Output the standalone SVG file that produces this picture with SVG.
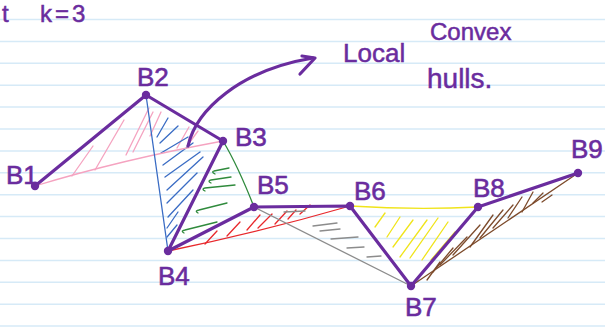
<svg xmlns="http://www.w3.org/2000/svg" width="605" height="327" viewBox="0 0 605 327">
<defs>
<style>
.rule{stroke:#d6eaf7;stroke-width:1.5}
.edge{stroke:#6a2c9e;stroke-width:3.2;fill:none;stroke-linecap:round;stroke-linejoin:round}
.hull{fill:none;stroke-width:1.3;stroke-linecap:round}
.h{fill:none;stroke-width:1.3;stroke-linecap:round;stroke-linejoin:round}
.pink{stroke:#f5a3c0}
.blue{stroke:#3a6cc4}
.green{stroke:#2f8a3c}
.red{stroke:#e8282c}
.gray{stroke:#8c8c8c}
.yellow{stroke:#f0e41a}
.brown{stroke:#7d4b2c}
.dot{fill:#6a2c9e}
.lbl{font-family:"Liberation Sans",Arial,sans-serif;font-size:26px;fill:#6a2c9e;stroke:#6a2c9e;stroke-width:0.6}
.note{font-family:"Liberation Sans",Arial,sans-serif;fill:#6a2c9e;stroke:#6a2c9e;stroke-width:0.5}
</style>
</defs>
<rect width="605" height="327" fill="#ffffff"/>
<g id="ruling">
<line class="rule" x1="0" y1="19.5" x2="605" y2="19.5"/>
<line class="rule" x1="0" y1="41.4" x2="605" y2="41.4"/>
<line class="rule" x1="0" y1="63.3" x2="605" y2="63.3"/>
<line class="rule" x1="0" y1="85.2" x2="605" y2="85.2"/>
<line class="rule" x1="0" y1="107.1" x2="605" y2="107.1"/>
<line class="rule" x1="0" y1="129" x2="605" y2="129"/>
<line class="rule" x1="0" y1="150.9" x2="605" y2="150.9"/>
<line class="rule" x1="0" y1="172.8" x2="605" y2="172.8"/>
<line class="rule" x1="0" y1="194.7" x2="605" y2="194.7"/>
<line class="rule" x1="0" y1="216.6" x2="605" y2="216.6"/>
<line class="rule" x1="0" y1="238.5" x2="605" y2="238.5"/>
<line class="rule" x1="0" y1="260.4" x2="605" y2="260.4"/>
<line class="rule" x1="0" y1="282.3" x2="605" y2="282.3"/>
<line class="rule" x1="0" y1="304.2" x2="605" y2="304.2"/>
<line class="rule" x1="0" y1="326.1" x2="605" y2="326.1"/>
</g>
<g id="hatching">
<g class="h pink">
<path d="M72,176 L93,146"/>
<path d="M95,170 L124,120"/>
<path d="M126,155 L149,108"/>
<path d="M133,152 L153,112"/>
<path d="M150,136 L161,112"/>
<path d="M177,148 L189,127"/>
<path d="M187,146 L198,131"/>
</g>
<g class="h blue">
<path d="M157,137 L168,118"/>
<path d="M160,143 L178,126"/>
<path d="M161,153 L188,137"/>
<path d="M163,165 L193,143"/>
<path d="M165,177 L200,152"/>
<path d="M167,190 L203,157"/>
<path d="M167,203 L197,173"/>
<path d="M168,217 L193,190"/>
<path d="M167,228 L178,212"/>
<path d="M167,237 L177,225"/>
</g>
<g class="h green">
<path d="M215,174 Q211,172 214,171 L229,168"/>
<path d="M211,183 Q207,181 211,180 L231,177"/>
<path d="M205,191 Q201,189 205,188 L235,185"/>
<path d="M198,213 Q194,211 199,210 L227,203"/>
<path d="M184,233 Q180,231 185,230 L217,222"/>
</g>
<g class="h red">
<path d="M205,244 L217,231"/>
<path d="M227,236 L240,222"/>
<path d="M247,230 L260,215"/>
<path d="M258,228 L272,214"/>
<path d="M275,224 L287,211"/>
<path d="M288,219 L296,210"/>
<path d="M300,214 L310,205"/>
</g>
<g class="h gray">
<path d="M284,212 L305,211"/>
<path d="M313,226 L337,223"/>
<path d="M320,231 L340,229"/>
<path d="M331,239 L358,237"/>
<path d="M347,248 L364,247"/>
<path d="M367,257 L381,256"/>
</g>
<g class="h yellow">
<path d="M375,227 L385,213"/>
<path d="M387,237 L400,217"/>
<path d="M393,247 L413,220"/>
<path d="M400,257 L427,220"/>
<path d="M410,258 L438,218"/>
<path d="M422,260 L448,222"/>
<path d="M431,260 L455,232"/>
</g>
<g class="h brown">
<path d="M427,280 L440,262"/>
<path d="M433,272 L453,248"/>
<path d="M440,265 L467,237"/>
<path d="M453,255 L480,225"/>
<path d="M470,247 L493,215"/>
<path d="M480,238 L503,210"/>
<path d="M493,228 L513,205"/>
<path d="M508,218 L522,197"/>
<path d="M522,212 L533,192"/>
<path d="M533,203 L543,193"/>
<path d="M542,202 L552,195"/>
</g>
</g>
<g id="connectors">
<path class="hull pink" d="M35,186 Q120,160 223,141"/>
<path class="hull blue" d="M146,95 L168,251"/>
<path class="hull green" d="M223,141 Q238,166 254,207"/>
<path class="hull red" d="M168,251 Q260,232 350,206"/>
<path class="hull gray" d="M254,207 L411,286"/>
<path class="hull yellow" d="M350,206 Q415,210 478,207"/>
<path class="hull brown" d="M411,286 L578,173"/>
<polyline class="edge" points="35,186 146,95 223,141 168,251 254,207 350,206 411,286 478,207 578,173"/>
<path class="edge" d="M188,146 C196,110 240,70 313,58"/>
<path class="edge" d="M302,56 L315,58 L300,74"/>
</g>
<g id="B1"><circle class="dot" cx="35" cy="186" r="4.2"/><text class="lbl" x="6" y="184">B1</text></g>
<g id="B2"><circle class="dot" cx="146" cy="95" r="4.2"/><text class="lbl" x="137" y="86">B2</text></g>
<g id="B3"><circle class="dot" cx="223" cy="141" r="4.2"/><text class="lbl" x="235" y="146">B3</text></g>
<g id="B4"><circle class="dot" cx="168" cy="251" r="4.2"/><text class="lbl" x="158" y="285">B4</text></g>
<g id="B5"><circle class="dot" cx="254" cy="207" r="4.2"/><text class="lbl" x="257" y="194">B5</text></g>
<g id="B6"><circle class="dot" cx="350" cy="206" r="4.2"/><text class="lbl" x="354" y="200">B6</text></g>
<g id="B7"><circle class="dot" cx="411" cy="286" r="4.2"/><text class="lbl" x="405" y="316">B7</text></g>
<g id="B8"><circle class="dot" cx="478" cy="207" r="4.2"/><text class="lbl" x="473" y="197">B8</text></g>
<g id="B9"><circle class="dot" cx="578" cy="173" r="4.2"/><text class="lbl" x="571" y="158">B9</text></g>
<g id="notes">
<text class="note" x="2" y="22" font-size="24">t</text>
<text class="note" x="40" y="22" font-size="24" letter-spacing="3">k=3</text>
<text class="note" x="343" y="62" font-size="26">Local</text>
<text class="note" x="430" y="40" font-size="24">Convex</text>
<text class="note" x="427" y="88" font-size="28">hulls.</text>
</g>
</svg>
